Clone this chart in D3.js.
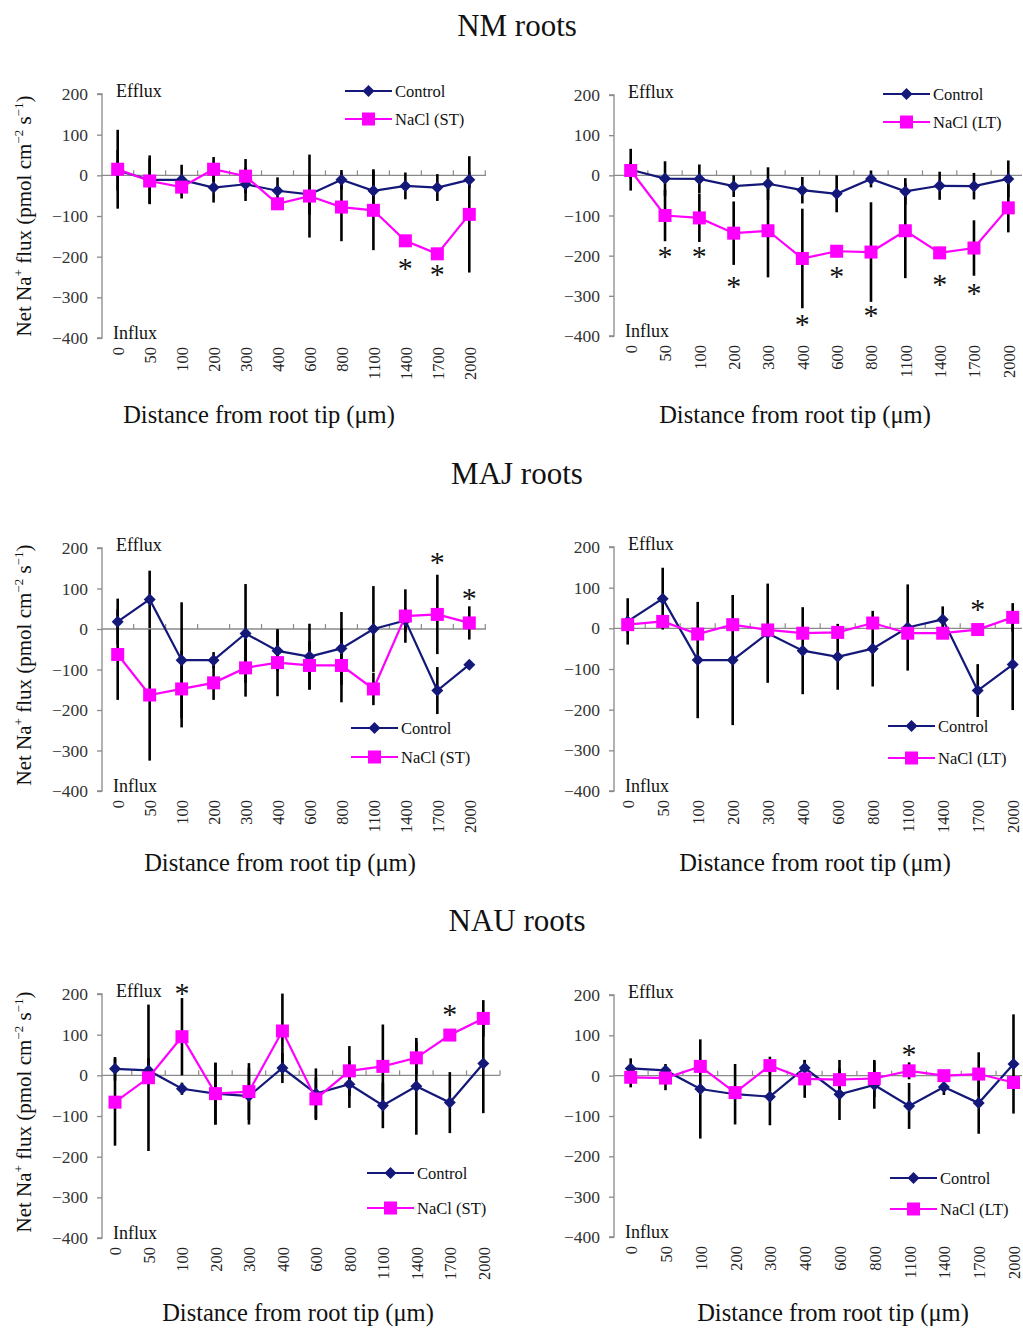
<!DOCTYPE html>
<html>
<head>
<meta charset="utf-8">
<title>Net Na+ flux along roots</title>
<script src="https://d3js.org/d3.v7.min.js"></script>
<style>
  body { margin: 0; background: #fff; }
  svg { font-family: "Liberation Serif", "Times New Roman", serif; }
</style>
</head>
<body>
<svg id="chart" width="1023" height="1328"></svg>
<script>
// distance from root tip (µm)
const categories = ["0", "50", "100", "200", "300", "400", "600", "800", "1100", "1400", "1700", "2000"];
const yTicks = [200, 100, 0, -100, -200, -300, -400];

// NM roots
const nmCtrlA    = [12, -11, -11, -30, -22, -38, -47, -11, -38, -26, -30, -11];
const nmCtrlAErr = [50, 60, 37, 37, 41, 33, 50, 24, 53, 33, 33, 20];
const nmST       = [15, -14, -29, 15, -2, -70, -51, -78, -86, -161, -193, -96];
const nmSTErr    = [97, 55, 28, 30, 42, 10, 102, 84, 98, 10, 10, 143];
const nmSTStars  = [[9, -219], [10, -234]];

const nmCtrlB    = [14, -8, -9, -27, -21, -37, -46, -9, -40, -26, -27, -9];
const nmCtrlBErr = [52, 43, 36, 27, 41, 33, 46, 21, 33, 35, 33, 46];
const nmLT       = [12, -100, -106, -144, -138, -207, -189, -191, -138, -193, -181, -81];
const nmLTErr    = [20, 64, 60, 79, 116, 124, 15, 124, 118, 15, 69, 61];
const nmLTStars  = [[1, -193], [2, -192], [3, -268], [5, -362], [6, -241], [7, -340], [9, -262], [10, -283]];

// MAJ roots
const majCtrlA    = [18, 73, -77, -77, -11, -54, -68, -48, 0, 21, -152, -88];
const majCtrlAErr = [57, 71, 143, 20, 122, 50, 81, 90, 106, 30, 58, 10];
const majST       = [-63, -163, -148, -133, -96, -83, -90, -90, -148, 32, 36, 15];
const majSTErr    = [112, 162, 95, 42, 71, 83, 60, 91, 40, 66, 98, 41];
const majSTStars  = [[10, 175], [11, 85]];

const majCtrlB    = [17, 73, -78, -78, -12, -55, -70, -50, 2, 22, -153, -89];
const majCtrlBErr = [57, 76, 143, 160, 122, 107, 81, 93, 106, 32, 65, 112];
const majLT       = [9, 17, -14, 9, -4, -12, -10, 13, -12, -12, -3, 27];
const majLTErr    = [20, 10, 10, 10, 10, 10, 10, 10, 10, 10, 10, 35];
const majLTStars  = [[10, 56]];

// NAU roots
const nauCtrlA    = [16, 12, -33, -45, -51, 18, -45, -22, -74, -27, -67, 29];
const nauCtrlAErr = [29, 30, 15, 76, 70, 37, 62, 58, 56, 119, 75, 122];
const nauST       = [-66, -6, 95, -45, -40, 109, -58, 11, 22, 43, 99, 140];
const nauSTErr    = [107, 180, 95, 76, 70, 92, 52, 61, 103, 40, 10, 45];
const nauSTStars  = [[2, 210], [10, 160]];

const nauCtrlB    = [18, 13, -33, -46, -52, 19, -46, -23, -75, -28, -68, 29];
const nauCtrlBErr = [25, 16, 123, 75, 71, 20, 64, 59, 57, 20, 76, 123];
const nauLT       = [-4, -6, 23, -42, 25, -8, -10, -7, 12, 0, 4, -17];
const nauLTErr    = [25, 30, 10, 10, 22, 47, 49, 46, 21, 10, 54, 10];
const nauLTStars  = [[8, 62]];

const rowTitles = ["NM roots", "MAJ roots", "NAU roots"];

const ctrlColor = "#141878", saltColor = "#ff00ff", axisColor = "#8a8a8a";

// panel layout
const panels = [
  { ctrl: nmCtrlA, ctrlErr: nmCtrlAErr, salt: nmST, saltErr: nmSTErr, stars: nmSTStars, label: "NaCl (ST)",
    ax: 102, top: 94, bottom: 338, x0: 117.7, x1: 469.3, xEnd: 486, leg: [345, 91, 119], xTitle: [259, 423], yTitle: 216 },
  { ctrl: nmCtrlB, ctrlErr: nmCtrlBErr, salt: nmLT, saltErr: nmLTErr, stars: nmLTStars, label: "NaCl (LT)",
    ax: 614, top: 95, bottom: 336, x0: 630.7, x1: 1008.3, xEnd: 1022, leg: [883, 94, 122], xTitle: [795, 423] },
  { ctrl: majCtrlA, ctrlErr: majCtrlAErr, salt: majST, saltErr: majSTErr, stars: majSTStars, label: "NaCl (ST)",
    ax: 102, top: 548, bottom: 791, x0: 117.7, x1: 469.3, xEnd: 486, leg: [351, 728, 757], xTitle: [280, 871], yTitle: 665 },
  { ctrl: majCtrlB, ctrlErr: majCtrlBErr, salt: majLT, saltErr: majLTErr, stars: majLTStars, label: "NaCl (LT)",
    ax: 614, top: 547, bottom: 791, x0: 627.7, x1: 1012.7, xEnd: 1022, leg: [888, 726, 758], xTitle: [815, 871] },
  { ctrl: nauCtrlA, ctrlErr: nauCtrlAErr, salt: nauST, saltErr: nauSTErr, stars: nauSTStars, label: "NaCl (ST)",
    ax: 102, top: 994, bottom: 1238, x0: 115, x1: 483.3, xEnd: 500, leg: [367, 1173, 1208], xTitle: [298, 1321], yTitle: 1112 },
  { ctrl: nauCtrlB, ctrlErr: nauCtrlBErr, salt: nauLT, saltErr: nauLTErr, stars: nauLTStars, label: "NaCl (LT)",
    ax: 614, top: 995, bottom: 1237, x0: 630.7, x1: 1013.5, xEnd: 1022, leg: [890, 1178, 1209], xTitle: [833, 1321] }
];
const titleY = [36, 484, 931];

const svg = d3.select("#chart");
svg.append("rect").attr("width", 1023).attr("height", 1328).attr("fill", "#fff");

svg.selectAll("text.rowtitle")
  .data(rowTitles)
  .enter().append("text")
    .attr("class", "rowtitle")
    .attr("x", 517)
    .attr("y", (d, i) => titleY[i])
    .attr("text-anchor", "middle")
    .attr("font-size", 31)
    .attr("fill", "#111")
    .text(d => d);

const diamond = "M0,-6L6,0L0,6L-6,0Z";

panels.forEach(p => {
  const g = svg.append("g");
  const x = d3.scalePoint().domain(categories).range([p.x0, p.x1]);
  const y = d3.scaleLinear().domain([-400, 200]).range([p.bottom, p.top]);
  const step = x.step();

  // y axis
  const yAxis = g.append("g")
    .attr("transform", `translate(${p.ax},0)`)
    .call(d3.axisLeft(y).tickValues(yTicks).tickSize(5).tickPadding(9).tickFormat(d3.format("d")));
  yAxis.select(".domain").attr("stroke", axisColor).attr("stroke-width", 1.3).attr("d", `M-5,${p.top}H0V${p.bottom}H-5`);
  yAxis.selectAll(".tick line").attr("stroke", axisColor).attr("stroke-width", 1.3);
  yAxis.selectAll(".tick text")
    .attr("font-family", "Liberation Serif, serif")
    .attr("font-size", 17.5)
    .attr("fill", "#333");

  // zero line with category ticks
  g.append("line")
    .attr("x1", p.ax).attr("x2", p.xEnd)
    .attr("y1", y(0)).attr("y2", y(0))
    .attr("stroke", axisColor).attr("stroke-width", 1.3);
  const bounds = categories.map(c => x(c) + step / 2);
  g.selectAll("line.xtick")
    .data(bounds)
    .enter().append("line")
      .attr("x1", d => d).attr("x2", d => d)
      .attr("y1", y(0)).attr("y2", y(0) - 5)
      .attr("stroke", axisColor).attr("stroke-width", 1.2);

  // x tick labels, rotated
  g.selectAll("text.xlab")
    .data(categories)
    .enter().append("text")
      .attr("transform", d => `translate(${x(d) + 1},${p.bottom + 9}) rotate(-90)`)
      .attr("text-anchor", "end")
      .attr("dy", "0.33em")
      .attr("font-size", 16.5)
      .attr("fill", "#222")
      .text(d => d);

  g.append("text")
    .attr("x", p.xTitle[0]).attr("y", p.xTitle[1])
    .attr("text-anchor", "middle")
    .attr("font-size", 24.5)
    .attr("fill", "#111")
    .text("Distance from root tip (\u03bcm)");

  g.append("text").attr("x", p.ax + 14).attr("y", p.top + 3)
    .attr("font-size", 18).attr("fill", "#111").text("Efflux");
  g.append("text").attr("x", p.ax + 11).attr("y", p.bottom + 1)
    .attr("font-size", 18).attr("fill", "#111").text("Influx");

  if (p.yTitle) {
    const t = g.append("text")
      .attr("transform", `translate(31,${p.yTitle}) rotate(-90)`)
      .attr("text-anchor", "middle")
      .attr("font-size", 21)
      .attr("fill", "#111");
    t.append("tspan").text("Net Na");
    t.append("tspan").attr("dy", -8).attr("font-size", 13).text("+");
    t.append("tspan").attr("dy", 8).text(" flux (pmol cm");
    t.append("tspan").attr("dy", -8).attr("font-size", 13).text("\u22122");
    t.append("tspan").attr("dy", 8).text(" s");
    t.append("tspan").attr("dy", -8).attr("font-size", 13).text("\u22121");
    t.append("tspan").attr("dy", 8).text(")");
  }

  const series = [
    { vals: p.ctrl, err: p.ctrlErr, color: ctrlColor, shape: "diamond" },
    { vals: p.salt, err: p.saltErr, color: saltColor, shape: "square" }
  ];

  // error bars (drawn below lines)
  series.forEach(s => {
    g.selectAll(null)
      .data(categories)
      .enter().append("line")
        .attr("x1", d => x(d)).attr("x2", d => x(d))
        .attr("y1", (d, i) => y(s.vals[i] + s.err[i]))
        .attr("y2", (d, i) => y(s.vals[i] - s.err[i]))
        .attr("stroke", "#000").attr("stroke-width", 2.6);
  });

  const line = d3.line().x((d, i) => x(categories[i])).y(d => y(d));
  series.forEach(s => {
    g.append("path")
      .datum(s.vals)
      .attr("d", line)
      .attr("fill", "none")
      .attr("stroke", s.color)
      .attr("stroke-width", 2.2);
    if (s.shape === "diamond") {
      g.selectAll(null).data(s.vals).enter().append("path")
        .attr("d", diamond)
        .attr("transform", (d, i) => `translate(${x(categories[i])},${y(d)})`)
        .attr("fill", s.color);
    } else {
      g.selectAll(null).data(s.vals).enter().append("rect")
        .attr("x", (d, i) => x(categories[i]) - 6.5)
        .attr("y", d => y(d) - 6.5)
        .attr("width", 13).attr("height", 13)
        .attr("fill", s.color);
    }
  });

  // significance stars
  g.selectAll(null)
    .data(p.stars)
    .enter().append("text")
      .attr("x", d => x(categories[d[0]]))
      .attr("y", d => y(d[1]))
      .attr("dy", "0.45em")
      .attr("text-anchor", "middle")
      .attr("font-size", 30)
      .attr("fill", "#111")
      .text("*");

  // legend
  const legItems = [
    { text: "Control", color: ctrlColor, shape: "diamond", y: p.leg[1] },
    { text: p.label, color: saltColor, shape: "square", y: p.leg[2] }
  ];
  legItems.forEach(it => {
    const lx = p.leg[0], mid = lx + 23.5;
    g.append("line").attr("x1", lx).attr("x2", lx + 47)
      .attr("y1", it.y).attr("y2", it.y)
      .attr("stroke", it.color).attr("stroke-width", 2.2);
    if (it.shape === "diamond") {
      g.append("path").attr("d", diamond).attr("transform", `translate(${mid},${it.y})`).attr("fill", it.color);
    } else {
      g.append("rect").attr("x", mid - 6.5).attr("y", it.y - 6.5).attr("width", 13).attr("height", 13).attr("fill", it.color);
    }
    g.append("text").attr("x", lx + 50).attr("y", it.y + 5.5)
      .attr("font-size", 16.5).attr("fill", "#111").text(it.text);
  });
});
</script>
</body>
</html>
